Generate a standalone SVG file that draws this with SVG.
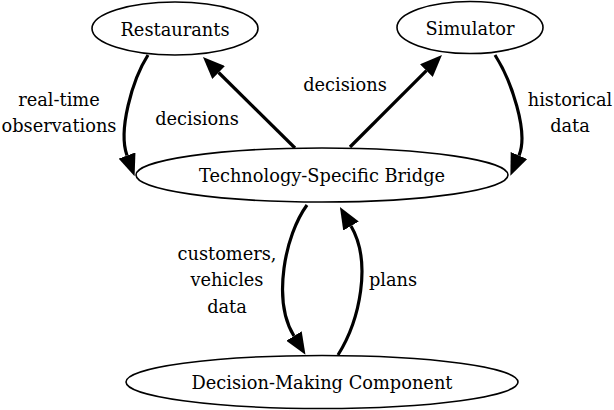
<svg xmlns="http://www.w3.org/2000/svg" width="614" height="410" viewBox="0 0 614 410">
<style>
.node ellipse{fill:#fff;stroke:#000;stroke-width:1.6}
text{font-family:'DejaVu Serif','Liberation Serif',serif;font-size:17.8px;fill:#000;text-anchor:middle}
.edge{fill:none;stroke:#000;stroke-width:3.2}
</style>
<defs>
<marker id="ah" viewBox="0 0 22 18" refX="0" refY="9" markerWidth="22" markerHeight="18" markerUnits="userSpaceOnUse" orient="auto">
<path d="M0,0 L22,9 L0,18 Z" fill="#000"/>
</marker>
</defs>
<rect width="614" height="410" fill="#fff"/>
<g id="connectors">
<path class="edge" d="M148,55 C132,80 118,131 127,155.5" marker-end="url(#ah)"/>
<path class="edge" d="M295,148 L218.6,72.5" marker-end="url(#ah)"/>
<path class="edge" d="M350,147 L426.4,70.6" marker-end="url(#ah)"/>
<path class="edge" d="M495,55 C511,80 529,132 519,155.5" marker-end="url(#ah)"/>
<path class="edge" d="M307,205 C285,235 272,300 294,336" marker-end="url(#ah)"/>
<path class="edge" d="M338,355 C360,320 372,262 351,226" marker-end="url(#ah)"/>
</g>
<g id="labels">
<text x="59" y="106">real-time</text>
<text x="59" y="132">observations</text>
<text x="197" y="125">decisions</text>
<text x="345" y="91">decisions</text>
<text x="570" y="106">historical</text>
<text x="570" y="132">data</text>
<text x="227" y="260">customers,</text>
<text x="227" y="286">vehicles</text>
<text x="227" y="313">data</text>
<text x="393" y="286">plans</text>
</g>
<g id="restaurants" class="node"><ellipse cx="175" cy="28.5" rx="83" ry="26.5"/><text x="175" y="36">Restaurants</text></g>
<g id="simulator" class="node"><ellipse cx="470" cy="27.5" rx="73" ry="26"/><text x="470" y="35">Simulator</text></g>
<g id="bridge" class="node"><ellipse cx="322" cy="175" rx="186" ry="27"/><text x="322" y="182">Technology-Specific Bridge</text></g>
<g id="decision" class="node"><ellipse cx="322" cy="382" rx="196" ry="26.5"/><text x="322" y="389">Decision-Making Component</text></g>
</svg>
